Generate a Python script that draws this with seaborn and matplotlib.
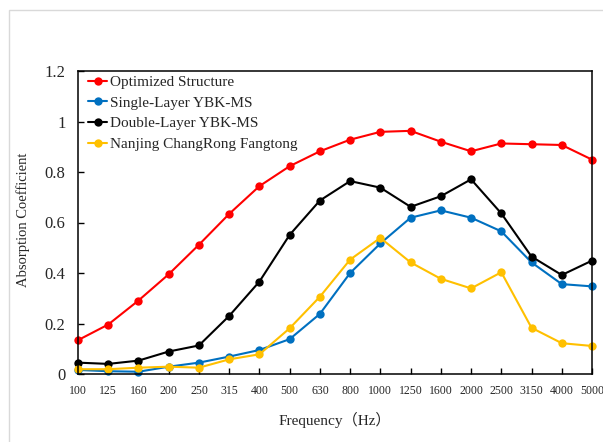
import numpy as np
import pandas as pd
import matplotlib
matplotlib.use('Agg')
import matplotlib.pyplot as plt
import seaborn as sns
from matplotlib.patches import Rectangle
from matplotlib.ticker import FuncFormatter

freqs = ['100', '125', '160', '200', '250', '315', '400', '500', '630', '800',
         '1000', '1250', '1600', '2000', '2500', '3150', '4000', '5000']

optimized = [0.134, 0.196, 0.291, 0.395, 0.512, 0.634, 0.744, 0.823, 0.882, 0.928,
             0.959, 0.963, 0.920, 0.882, 0.913, 0.910, 0.907, 0.849]
single = [0.016, 0.011, 0.009, 0.029, 0.045, 0.069, 0.095, 0.138, 0.238, 0.400,
          0.517, 0.619, 0.648, 0.619, 0.565, 0.442, 0.356, 0.347]
double = [0.045, 0.040, 0.053, 0.089, 0.113, 0.230, 0.366, 0.551, 0.687, 0.764,
          0.738, 0.662, 0.704, 0.771, 0.636, 0.465, 0.392, 0.449]
nanjing = [0.019, 0.019, 0.025, 0.029, 0.025, 0.058, 0.078, 0.181, 0.306, 0.453,
           0.539, 0.442, 0.377, 0.339, 0.403, 0.183, 0.122, 0.111]

names = ['Optimized Structure', 'Single-Layer YBK-MS', 'Double-Layer YBK-MS',
         'Nanjing ChangRong Fangtong']
colors = ['#FF0000', '#0070C0', '#000000', '#FFC000']

df = pd.concat([
    pd.DataFrame({'freq': freqs, 'alpha': vals, 'series': name})
    for name, vals in zip(names, [optimized, single, double, nanjing])
])

sns.set_theme(style='white')
plt.rcParams['font.family'] = ['Liberation Serif', 'Noto Sans CJK SC']

fig = plt.figure(figsize=(6.03, 4.42), dpi=100)
ax = fig.add_axes([78 / 603, 1 - 374 / 442, 514 / 603, 303 / 442])

# light frame around the whole chart
fig.patches.append(Rectangle((9 / 603, -0.1), 1.2, 1 - 10 / 442 + 0.1,
                             transform=fig.transFigure, fill=False,
                             edgecolor='#d9d9d9', lw=1))

sns.lineplot(data=df, x='freq', y='alpha', hue='series', hue_order=names,
             palette=colors, marker='o', markersize=6, markeredgewidth=0,
             linewidth=1.5, sort=False, ax=ax, clip_on=False)

ax.set_xlim(0, len(freqs) - 1)
ax.set_ylim(0, 1.2)
ax.set_yticks(np.arange(0, 1.21, 0.2))
ax.yaxis.set_major_formatter(FuncFormatter(lambda v, p: '%g' % round(v, 1)))

for s in ax.spines.values():
    s.set_color('black')
    s.set_linewidth(1.1)

ax.tick_params(axis='both', direction='in', length=4, width=1, color='black',
               bottom=True, left=True, top=False, right=False)
ax.tick_params(axis='y', labelsize=12, pad=9)
ax.tick_params(axis='x', labelsize=8.5, pad=8)

ax.set_xlabel('Frequency（Hz）', fontsize=11, labelpad=11)
ax.set_ylabel('Absorption Coefficient', fontsize=10.5, labelpad=5)
ax.yaxis.set_label_coords(-0.093, 0.51)

leg = ax.legend(loc='upper left', bbox_to_anchor=(0.02, 0.985), frameon=False,
                fontsize=11, handlelength=1.25, handletextpad=0.15,
                labelspacing=0.45, borderpad=0, borderaxespad=0)

fig.savefig('out.png', dpi=100)
